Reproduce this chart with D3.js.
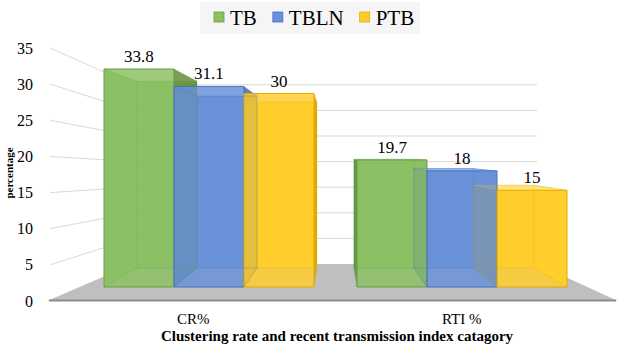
<!DOCTYPE html>
<html>
<head>
<meta charset="utf-8">
<script src="https://cdn.jsdelivr.net/npm/d3@7"></script>
<style>
  html, body { margin: 0; padding: 0; background: #ffffff; }
  svg { display: block; }
</style>
</head>
<body>
<script>
// ---------------- data ----------------
const categories = ["CR%", "RTI %"];
const seriesNames = ["TB", "TBLN", "PTB"];
const TB   = [33.8, 19.7];
const TBLN = [31.1, 18];
const PTB  = [30, 15];
const yTicks = [0, 5, 10, 15, 20, 25, 30, 35];
const yMax = 35;
const xTitle = "Clustering  rate and recent transmission index catagory";
const yTitle = "percentage";

// ---------------- styles ----------------
const FONT = "Liberation Serif";
const colors = {
  TB:   { front: "#8cc063", dark: "#5f8e3d", light: "#a8d38a", stroke: "#6a9c45" },
  TBLN: { front: "#6890d8", dark: "#3f67b0", light: "#8fb0e8", stroke: "#4570c0" },
  PTB:  { front: "#ffcd2b", dark: "#d6a200", light: "#ffe27c", stroke: "#e2ac00" }
};
const seriesValues = { TB: TB, TBLN: TBLN, PTB: PTB };

const W = 624, H = 348;
const svg = d3.select("body").append("svg").attr("width", W).attr("height", H)
  .style("font-family", FONT);
svg.append("rect").attr("width", W).attr("height", H).attr("fill", "#fff");

// ---------------- geometry (3-D look) ----------------
const wallFrontX = 50, wallBackX = 133, wallBackRight = 537;
const floorFront = { x0: 47, x1: 618, y: 301 };
const floorBack  = { x0: 133, x1: 537, y: 264 };

const yFront = d3.scaleLinear().domain([0, yMax]).range([301, 48]);
const yBack  = d3.scaleLinear().domain([0, yMax]).range([264, 264 - yMax * 5.12]);
const yBar   = d3.scaleLinear().domain([0, yMax]).range([287, 287 - yMax * 6.45]);

const xGroup = d3.scaleBand().domain(categories).range([104, 567]).paddingInner(0.17);
const xSub = d3.scaleBand().domain(seriesNames).range([0, xGroup.bandwidth()]);
const xCatLabel = d3.scaleBand().domain(categories).range([floorFront.x0 + 12, floorFront.x1 - 22]);

const VP = [335, 154], depthR = 0.857;
const proj = p => [VP[0] + (p[0] - VP[0]) * depthR, VP[1] + (p[1] - VP[1]) * depthR];
const poly = pts => "M" + pts.map(p => p[0].toFixed(2) + "," + p[1].toFixed(2)).join("L") + "Z";

// ---------------- gridlines (left wall + back wall) ----------------
const grid = svg.append("g");
yTicks.filter(t => t > 0).forEach(t => {
  grid.append("path")
    .attr("d", `M${wallFrontX},${yFront(t)}L${wallBackX},${yBack(t)}L${wallBackRight},${yBack(t)}`)
    .attr("fill", "none").attr("stroke", "#d9d9d9").attr("stroke-width", 1);
});

// ---------------- floor ----------------
svg.append("path")
  .attr("d", poly([[floorFront.x0, floorFront.y], [floorFront.x1, floorFront.y],
                   [floorBack.x1, floorBack.y], [floorBack.x0, floorBack.y]]))
  .attr("fill", "#bfbfbf");
svg.append("line")
  .attr("x1", floorFront.x0 + 2).attr("x2", floorFront.x1 - 2)
  .attr("y1", floorFront.y - 0.5).attr("y2", floorFront.y - 0.5)
  .attr("stroke", "#8c8c8c").attr("stroke-width", 2);

// ---------------- bars ----------------
const bars = [];
categories.forEach((c, i) => {
  seriesNames.forEach(s => {
    const v = seriesValues[s][i];
    const x0 = xGroup(c) + xSub(s), x1 = x0 + xSub.bandwidth();
    const yt = yBar(v), yb = yBar(0);
    const F = { lt: [x0, yt], rt: [x1, yt], rb: [x1, yb], lb: [x0, yb] };
    const B = { lt: proj(F.lt), rt: proj(F.rt), rb: proj(F.rb), lb: proj(F.lb) };
    bars.push({ c, s, v, x0, x1, yt, yb, F, B, col: colors[s], leftOfVP: (x0 + x1) / 2 < VP[0] });
  });
});

const gBack = svg.append("g"), gSide = svg.append("g"), gFront = svg.append("g"), gEdge = svg.append("g");

bars.forEach(b => {
  const { F, B, col } = b;
  gBack.append("path").attr("d", poly([B.lt, B.rt, B.rb, B.lb]))
    .attr("fill", col.front).attr("fill-opacity", 0.95);
  const hidden = b.leftOfVP ? [F.lt, B.lt, B.lb, F.lb] : [F.rt, B.rt, B.rb, F.rb];
  gBack.append("path").attr("d", poly(hidden)).attr("fill", col.front).attr("fill-opacity", 0.95);
  const vis = b.leftOfVP ? [F.rt, B.rt, B.rb, F.rb] : [F.lt, B.lt, B.lb, F.lb];
  gSide.append("path").attr("d", poly(vis)).attr("fill", col.dark).attr("fill-opacity", 0.85);
  if (b.yt > VP[1]) {
    gSide.append("path").attr("d", poly([F.lt, F.rt, B.rt, B.lt])).attr("fill", col.light);
  }
  gFront.append("path").attr("d", poly([F.lt, F.rt, F.rb, F.lb]))
    .attr("fill", col.front).attr("fill-opacity", 0.84)
    .attr("stroke", col.stroke).attr("stroke-width", 1);
  const edges = [[F.lt, B.lt], [F.rt, B.rt], [F.rb, B.rb], [F.lb, B.lb],
                 [B.lt, B.rt], [B.rt, B.rb], [B.rb, B.lb], [B.lb, B.lt]];
  edges.forEach(e => {
    gEdge.append("line").attr("x1", e[0][0]).attr("y1", e[0][1]).attr("x2", e[1][0]).attr("y2", e[1][1])
      .attr("stroke", col.stroke).attr("stroke-opacity", 0.35).attr("stroke-width", 0.8);
  });
});

// data labels
svg.append("g").selectAll("text").data(bars).join("text")
  .attr("x", d => (d.x0 + d.x1) / 2)
  .attr("y", d => d.yt - 7)
  .attr("text-anchor", "middle")
  .attr("font-family", FONT).attr("font-size", 17).attr("fill", "#000")
  .text(d => d.v);

// ---------------- axes ----------------
const yAxis = d3.axisLeft(yFront).tickValues(yTicks).tickSize(0).tickPadding(5);
const gy = svg.append("g").attr("transform", "translate(38,0)").call(yAxis)
  .attr("font-family", FONT).attr("font-size", 16);
gy.select(".domain").remove();
gy.selectAll("text").attr("fill", "#000");

const xAxis = d3.axisBottom(xCatLabel).tickSize(0).tickPadding(0);
const gx = svg.append("g").attr("transform", "translate(0,313)").call(xAxis)
  .attr("font-family", FONT).attr("font-size", 15);
gx.select(".domain").remove();
gx.selectAll("text").attr("fill", "#000");

// axis titles
svg.append("text").attr("x", 337).attr("y", 341).attr("text-anchor", "middle")
  .attr("font-family", FONT).attr("font-size", 15).attr("font-weight", "bold").text(xTitle);
svg.append("text").attr("transform", "translate(13,173) rotate(-90)").attr("text-anchor", "middle")
  .attr("font-family", FONT).attr("font-size", 11).attr("font-weight", "bold").text(yTitle);

// ---------------- legend ----------------
const legend = svg.append("g");
legend.append("rect").attr("x", 200).attr("y", 2).attr("width", 220).attr("height", 32).attr("fill", "#f5f5f5");
let lx = 214;
seriesNames.forEach(s => {
  legend.append("rect").attr("x", lx).attr("y", 12).attr("width", 10).attr("height", 10)
    .attr("fill", colors[s].front).attr("stroke", colors[s].stroke).attr("stroke-width", 0.8);
  const t = legend.append("text").attr("x", lx + 16).attr("y", 25)
    .attr("font-family", FONT).attr("font-size", 21).attr("fill", "#000").text(s);
  lx += 16 + t.node().getComputedTextLength() + 16;
});
</script>
</body>
</html>
